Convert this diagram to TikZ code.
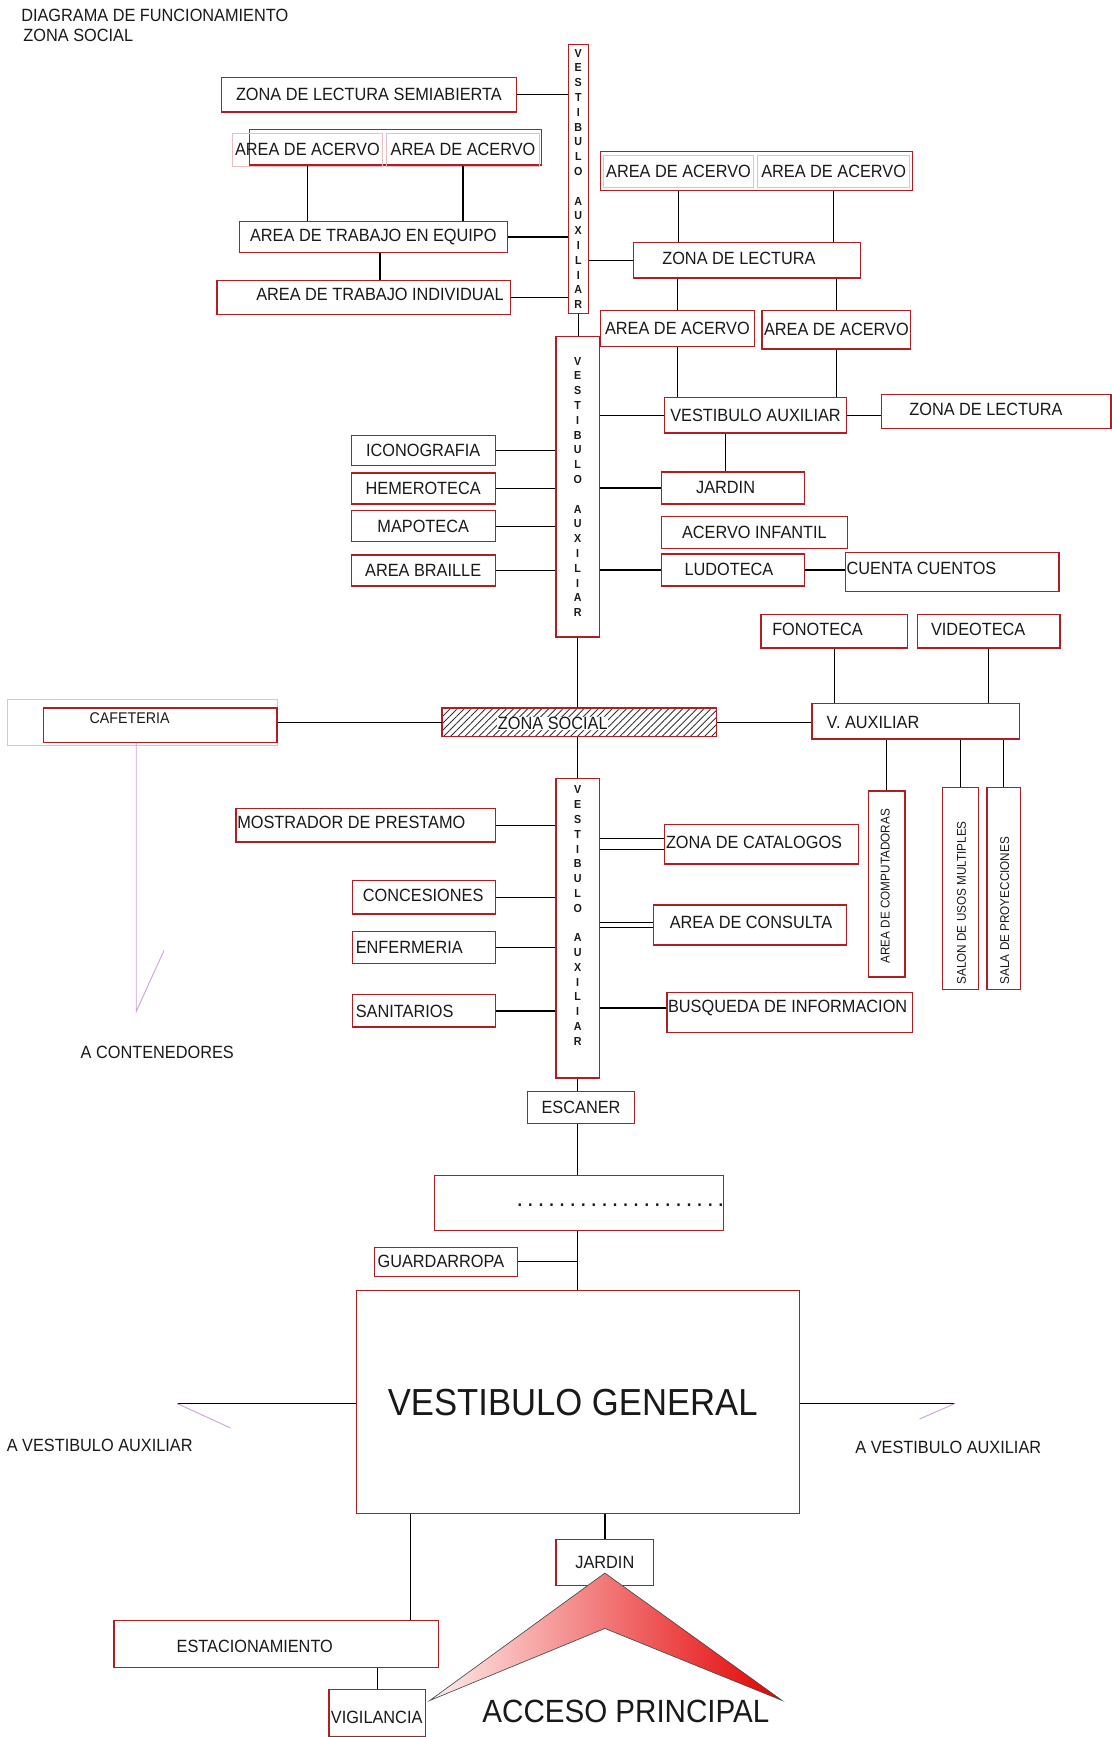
\documentclass[tikz,border=0pt]{standalone}
\usepackage{fontspec}
\setmainfont{Liberation Sans}[FakeStretch=0.92]
\usetikzlibrary{fit,patterns.meta}

\definecolor{rojo}{RGB}{175,30,35}
\definecolor{tinta}{RGB}{25,25,25}
\definecolor{rosa}{RGB}{235,190,195}
\definecolor{lila}{RGB}{205,160,215}
\definecolor{palido}{RGB}{255,238,238}
\definecolor{vivo}{RGB}{228,0,0}

\newcommand{\letrasva}{V\\E\\S\\T\\I\\B\\U\\L\\O\\[13.35pt]A\\U\\X\\I\\L\\I\\A\\R}

\begin{document}
\begin{tikzpicture}[x=1pt,y=-1pt,
  sala/.style={draw=rojo, line width=1.2pt, inner sep=0pt},
  tenue/.style={draw=rosa, line width=0.6pt, inner sep=0pt},
  rotulo/.style={label=center:{#1}},
  union/.style={draw=black, line width=1.2pt},
  guia/.style={draw=lila, line width=0.8pt},
  letras/.style={align=center, inner sep=0pt, font=\bfseries\fontsize{10.5}{13.35}\selectfont},
  girado/.style={rotate=90, font=\fontsize{11.5}{13}\selectfont},
  every node/.style={text=tinta, inner sep=1pt, font=\fontsize{16}{18}\selectfont}]

\useasboundingbox (0,0) rectangle (1003,1568);

% Title
\node[anchor=west] (titulo) at (18,14) {DIAGRAMA DE FUNCIONAMIENTO};
\node[anchor=west] (subtitulo) at (20,32) {ZONA SOCIAL};

% Upper auxiliary vestibule
\node[sala, fit={(513,40) (531,283)}] (va1) {};
\node[letras] at (va1.center) {\letrasva};

\node[sala, fit={(200,70) (466,101)}, rotulo={ZONA DE LECTURA SEMIABIERTA}] (zls) {};
\node[sala, fit={(225,117) (489,149)}] (acA) {};
\node[tenue, fit={(210,120) (345,150)}, rotulo={AREA DE ACERVO}] (acA1) {};
\node[tenue, fit={(349,120) (487,150)}, rotulo={AREA DE ACERVO}] (acA2) {};
\node[sala, fit={(216,200) (458,228)}, rotulo={AREA DE TRABAJO EN EQUIPO}] (ate) {};
\node[sala, fit={(196,253) (461,284)}] (ati) {};
\node (atitxt) at (343,266) {AREA DE TRABAJO INDIVIDUAL};

\draw[union] (acA.south -| acA1) -- (ate.north -| acA1);
\draw[union] (acA.south -| acA2) -- (ate.north -| acA2);
\draw[union] (ate.south -| atitxt) -- (ati.north -| atitxt);
\draw[union] (zls.east) -- (zls.east -| va1.west);
\draw[union] (ate.east) -- (ate.east -| va1.west);
\draw[union] (ati.east) -- (ati.east -| va1.west);

% Reading zone with collections
\node[sala, fit={(542,137) (824,172)}] (acB) {};
\node[tenue, fit={(545,140) (680,169)}, rotulo={AREA DE ACERVO}] (acB1) {};
\node[tenue, fit={(684,140) (821,169)}, rotulo={AREA DE ACERVO}] (acB2) {};
\node[sala, fit={(572,219) (777,251)}] (zl1) {};
\node (zl1txt) at (667,233) {ZONA DE LECTURA};
\node[sala, fit={(542,280) (681,313)}, rotulo={AREA DE ACERVO}] (acC1) {};
\node[sala, fit={(688,280) (822,315)}, rotulo={AREA DE ACERVO}] (acC2) {};
\node[sala, fit={(600,359) (764,391)}, rotulo={VESTIBULO AUXILIAR}] (vaux) {};
\node[sala, fit={(796,356) (1003,387)}] (zl2) {};
\node (zl2txt) at (890,370) {ZONA DE LECTURA};

\draw[union] (acB.south -| acB1) -- (zl1.north -| acB1);
\draw[union] (acB.south -| acB2) -- (zl1.north -| acB2);
\draw[union] (zl1.south -| acC1) -- (acC1.north);
\draw[union] (zl1.south -| acC2) -- (acC2.north);
\draw[union] (acC1.south) -- (vaux.north -| acC1);
\draw[union] (acC2.south) -- (vaux.north -| acC2);
\draw[union] (va1.east |- zl1) -- (zl1.west);
\draw[union] (vaux.east) -- (zl2.west |- vaux.east);

% Middle auxiliary vestibule
\node[sala, fit={(502,304) (541,575)}] (va2) {};
\node[letras] at (va2.center) {\letrasva};
\draw[union] (va1.south) -- (va1.south |- va2.north);

\node[sala, fit={(317,393) (447,420)}, rotulo={ICONOGRAFIA}] (icono) {};
\node[sala, fit={(317,427) (447,455)}, rotulo={HEMEROTECA}] (hemero) {};
\node[sala, fit={(317,461) (447,489)}, rotulo={MAPOTECA}] (mapo) {};
\node[sala, fit={(317,501) (447,529)}, rotulo={AREA BRAILLE}] (braille) {};
\draw[union] (icono.east) -- (icono.east -| va2.west);
\draw[union] (hemero.east) -- (hemero.east -| va2.west);
\draw[union] (mapo.east) -- (mapo.east -| va2.west);
\draw[union] (braille.east) -- (braille.east -| va2.west);

\node[sala, fit={(597,426) (726,455)}] (jardin1) {};
\node (jardin1txt) at (655,440) {JARDIN};
\node[sala, fit={(597,466) (765,495)}, rotulo={ACERVO INFANTIL}] (infantil) {};
\node[sala, fit={(597,500) (726,529)}] (ludo) {};
\node (ludotxt) at (658,514) {LUDOTECA};
\node[sala, fit={(763,499) (956,534)}] (cuentos) {};
\node[anchor=west] (cuentostxt) at (763,513) {CUENTA CUENTOS};
\draw[union] (va2.east |- vaux) -- (vaux.west);
\draw[union] (vaux.south -| jardin1txt) -- (jardin1.north -| jardin1txt);
\draw[union] (va2.east |- jardin1) -- (jardin1.west);
\draw[union] (va2.east |- ludo) -- (ludo.west);
\draw[union] (ludo.east) -- (cuentos.west |- ludo.east);

% Social zone
\node[sala, fit={(399,639) (647,665)}, pattern={Lines[angle=45,distance=4.5pt,line width=0.8pt]}, pattern color=black!80] (zs) {};
\node[fill=white, inner sep=0.5pt] (zstxt) at (499,653) {ZONA SOCIAL};
\draw[union] (va2.south) -- (va2.south |- zs.north);

\node[tenue, fit={(7,631) (250,673)}] (cafefondo) {};
\node[sala, fit={(39,639) (250,670)}] (cafe) {};
\node[font=\fontsize{14}{16}\selectfont] (cafetxt) at (117,648) {CAFETERIA};
\draw[union] (cafe.east |- zs) -- (zs.west);
\coordinate (contenedor) at (123,913);
\draw[guia] (contenedor |- cafe.south) -- (contenedor) -- ++(25,-55);
\node (contenedortxt) at (142,950) {A CONTENEDORES};

\node[sala, fit={(687,555) (819,585)}] (fono) {};
\node (fonotxt) at (738,568) {FONOTECA};
\node[sala, fit={(828,555) (957,585)}] (video) {};
\node (videotxt) at (883,568) {VIDEOTECA};
\node[sala, fit={(733,635) (920,667)}] (vaux2) {};
\node[anchor=west] (vaux2txt) at (745,652) {V. AUXILIAR};
\draw[union] (fono.south) -- (vaux2.north -| fono.south);
\draw[union] (video.south) -- (vaux2.north -| video.south);
\draw[union] (zs.east) -- (vaux2.west |- zs.east);

\node[sala, fit={(784,714) (817,882)}] (compu) {};
\node[girado] (computxt) at (799,800) {AREA DE COMPUTADORAS};
\node[sala, fit={(851,711) (883,893)}] (salon) {};
\node[girado] (salontxt) at (868,815) {SALON DE USOS MULTIPLES};
\node[sala, fit={(891,711) (921,893)}] (proye) {};
\node[girado] (proyetxt) at (907,822) {SALA DE PROYECCIONES};
\draw[union] (vaux2.south -| compu) -- (compu.north);
\draw[union] (vaux2.south -| salon) -- (salon.north);
\draw[union] (vaux2.south -| proye) -- (proye.north);

% Lower auxiliary vestibule
\node[sala, fit={(502,703) (541,973)}] (va3) {};
\node[letras] at (521.5,826.5) {\letrasva};
\draw[union] (va3.north |- zs.south) -- (va3.north);

\node[sala, fit={(213,730) (447,760)}] (mostrador) {};
\node[anchor=west] (mostradortxt) at (213,742) {MOSTRADOR DE PRESTAMO};
\node[sala, fit={(318,795) (447,825)}] (conces) {};
\node (concestxt) at (382,808) {CONCESIONES};
\node[sala, fit={(318,841) (447,870)}] (enferm) {};
\node[anchor=west] (enfermtxt) at (320,855) {ENFERMERIA};
\node[sala, fit={(318,898) (447,927)}] (sanit) {};
\node[anchor=west] (sanittxt) at (320,913) {SANITARIOS};
\draw[union] (mostrador.east) -- (mostrador.east -| va3.west);
\draw[union] (conces.east) -- (conces.east -| va3.west);
\draw[union] (enferm.east) -- (enferm.east -| va3.west);
\draw[union] (sanit.east) -- (sanit.east -| va3.west);

\node[sala, fit={(600,744) (775,780)}] (catal) {};
\node[anchor=west] (cataltxt) at (600,760) {ZONA DE CATALOGOS};
\node[sala, fit={(590,817) (764,853)}] (consulta) {};
\node (consultatxt) at (678,833) {AREA DE CONSULTA};
\node[sala, fit={(602,896) (824,932)}] (busq) {};
\node (busqtxt) at (711,910) {BUSQUEDA DE INFORMACION};
\draw[union] ([yshift=5pt]catal.west) -- ([yshift=5pt]catal.west -| va3.east);
\draw[union] ([yshift=-5pt]catal.west) -- ([yshift=-5pt]catal.west -| va3.east);
\draw[union] ([yshift=2.5pt]consulta.west) -- ([yshift=2.5pt]consulta.west -| va3.east);
\draw[union] ([yshift=-2.5pt]consulta.west) -- ([yshift=-2.5pt]consulta.west -| va3.east);
\draw[union] (va3.east |- busqtxt) -- (busq.west |- busqtxt);

% Entrance
\node[sala, fit={(476,985) (573,1014)}, rotulo={ESCANER}] (escaner) {};
\node[sala, fit={(392,1061) (653,1111)}] (puntos) {};
\node[font=\bfseries\fontsize{16}{18}\selectfont] (puntostxt) at (560,1088) {. . . . . . . . . . . . . . . . . . . .};
\node[sala, fit={(338,1126) (467,1152)}] (guarda) {};
\node (guardatxt) at (398,1139) {GUARDARROPA};
\node[sala, fit={(322,1165) (722,1366)}] (vg) {};
\node[font=\fontsize{34}{38}\selectfont] (vgtxt) at (517,1266) {VESTIBULO GENERAL};
\draw[union] (va3.south) -- (va3.south |- escaner.north);
\draw[union] (va3.south |- escaner.south) -- (va3.south |- puntos.north);
\draw[union] (va3.south |- puntos.south) -- (va3.south |- vg.north);
\draw[union] (guarda.east) -- (guarda.east -| vg.north);

\coordinate (vaizq) at (160,1267);
\coordinate (vader) at (862,1267);
\draw[union] (vg.west |- vaizq) -- (vaizq);
\draw[union] (vg.east |- vader) -- (vader);
\draw[guia] (vaizq) -- ++(48,22);
\draw[guia] (vader) -- ++(-32,14);
\node (vaizqtxt) at (90,1305) {A VESTIBULO AUXILIAR};
\node (vadertxt) at (856,1307) {A VESTIBULO AUXILIAR};

\node[sala, fit={(502,1390) (590,1431)}] (jardin2) {};
\node (jardin2txt) at (546,1410) {JARDIN};
\node[sala, fit={(103,1463) (396,1505)}] (estac) {};
\node (estactxt) at (230,1486) {ESTACIONAMIENTO};
\node[sala, fit={(297,1525) (384,1568)}] (vigil) {};
\node (vigiltxt) at (340,1550) {VIGILANCIA};
\draw[union] ([xshift=49pt]vg.south west) -- ([xshift=49pt]vg.south west |- estac.north);
\draw[union] (vg.south -| jardin2) -- (jardin2.north);
\draw[union] (estac.south -| vigil) -- (vigil.north);

% Access arrow
\shadedraw[draw=black!70, line width=0.6pt, left color=palido, right color=vivo]
  (546,1420) -- (706,1535) -- (546,1470) -- (388,1535) -- cycle;
\node[font=\fontsize{29}{32}\selectfont] (acceso) at (565,1545) {ACCESO PRINCIPAL};

\end{tikzpicture}
\end{document}
